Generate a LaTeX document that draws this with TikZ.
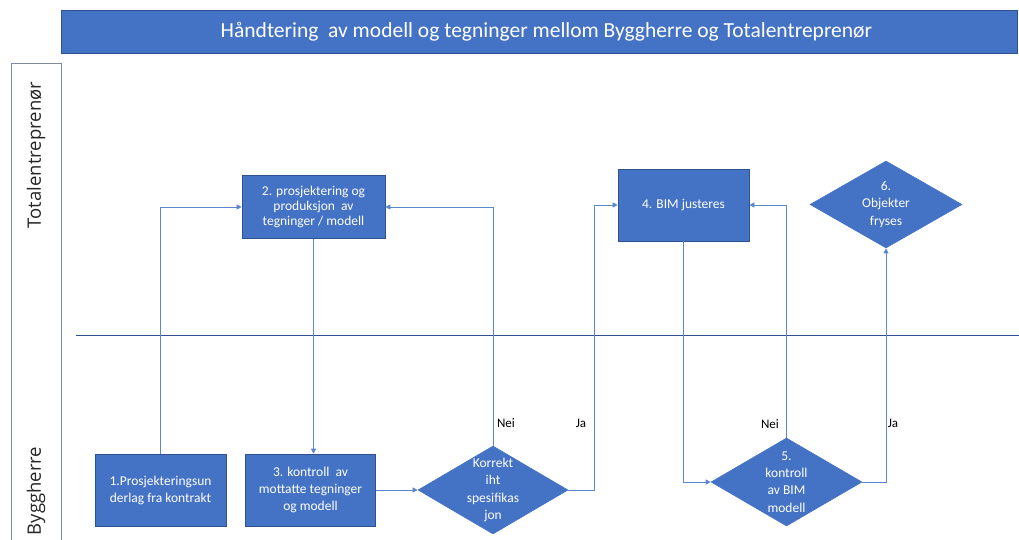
\documentclass[tikz,border=0pt]{standalone}
\usepackage{fontspec}
\setmainfont{Carlito}
\newfontfamily\lanefont{Open Sans}
\usetikzlibrary{shapes.geometric,arrows.meta}
\definecolor{boxblue}{HTML}{4472C4}
\definecolor{boxedge}{HTML}{2F528F}
\definecolor{linkblue}{HTML}{5B87CC}
\definecolor{lanegray}{HTML}{7F8CA0}
\tikzset{
  stepbox/.style={rectangle,draw=boxedge,line width=0.6pt,fill=boxblue,text=white,align=center,
    font=\fontsize{13.5}{17}\selectfont,inner sep=2pt},
  decbox/.style={diamond,draw=boxblue,line width=0.6pt,fill=boxblue,inner sep=0pt},
  dectext/.style={text=white,align=center,font=\fontsize{13.5}{17.3}\selectfont},
  link/.style={draw=linkblue,line width=0.9pt},
  linkarrow/.style={link,-{Triangle[length=5pt,width=5pt]}},
  anslabel/.style={font=\fontsize{13}{15}\selectfont,text=black},
  lanelabel/.style={font=\lanefont\fontsize{18.5}{20}\selectfont,rotate=90,text=black!85}
}
\begin{document}
\begin{tikzpicture}[x=1pt,y=-1pt]
\useasboundingbox (0,0) rectangle (1019,540);
% title
\node[fill=boxblue,draw=boxedge,line width=0.8pt,minimum width=956pt,minimum height=43pt,inner sep=0pt,anchor=north west,
  text=white,font=\fontsize{21.5}{23}\selectfont] (title) at (61,10)
  {\hspace*{14pt}Håndtering\ \ av modell og tegninger mellom Byggherre og Totalentreprenør};
% lane frame
\draw[lanegray,line width=0.8pt] (11,545) -- (11,63) -- (61,63) -- (61,545);
\node[lanelabel] (laneT) at (36,155) {Totalentreprenør};
\node[lanelabel] (laneB) at (36,491) {Byggherre};
\draw[boxedge,line width=0.8pt] (76,335) -- (1019,335);
% nodes
\node[stepbox,minimum width=131pt,minimum height=72pt] (b1) at (160.5,490) {1.Prosjekteringsun\\derlag fra kontrakt};
\node[stepbox,minimum width=143pt,minimum height=63pt,font=\fontsize{13.5}{14.8}\selectfont] (b2) at (313.5,207) {2. prosjektering og\\produksjon\ \ av\\tegninger / modell};
\node[stepbox,minimum width=130pt,minimum height=72pt] (b3) at (310.5,490) {3. kontroll\ \ av\\mottatte tegninger\\og modell};
\node[stepbox,minimum width=131pt,minimum height=72pt] (b4) at (683.5,205) {4. BIM justeres};
\node[decbox,minimum width=150pt,minimum height=88pt,
  label={[dectext]center:Korrekt\\iht\\spesifikas\\jon}] (dK) at (493,490) {};
\node[decbox,minimum width=151pt,minimum height=88pt,
  label={[dectext]center:5.\\kontroll\\av BIM\\modell}] (d5) at (786.5,482) {};
\node[decbox,minimum width=152pt,minimum height=87pt,
  label={[dectext]center:6.\\Objekter\\fryses}] (d6) at (886,204.5) {};
% connectors
\draw[linkarrow] (b1.north) |- (b2.west);
\draw[linkarrow] (b2.south) -- (b2.south |- b3.north);
\draw[linkarrow] (b3.east) -- (dK.west);
\draw[linkarrow] (dK.north) |- (b2.east);
\coordinate (j1) at (594,490);
\draw[linkarrow] (dK.east) -- (j1) |- (b4.west);
\draw[linkarrow] (b4.south) |- (d5.west);
\draw[linkarrow] (d5.north) |- (b4.east);
\draw[linkarrow] (d5.east) -| (d6.south);
% answer labels
\node[anslabel] (n1) at (506,423) {Nei};
\node[anslabel] (a1) at (581,423) {Ja};
\node[anslabel] (n2) at (770,424) {Nei};
\node[anslabel] (a2) at (893,423) {Ja};
\end{tikzpicture}
\end{document}
